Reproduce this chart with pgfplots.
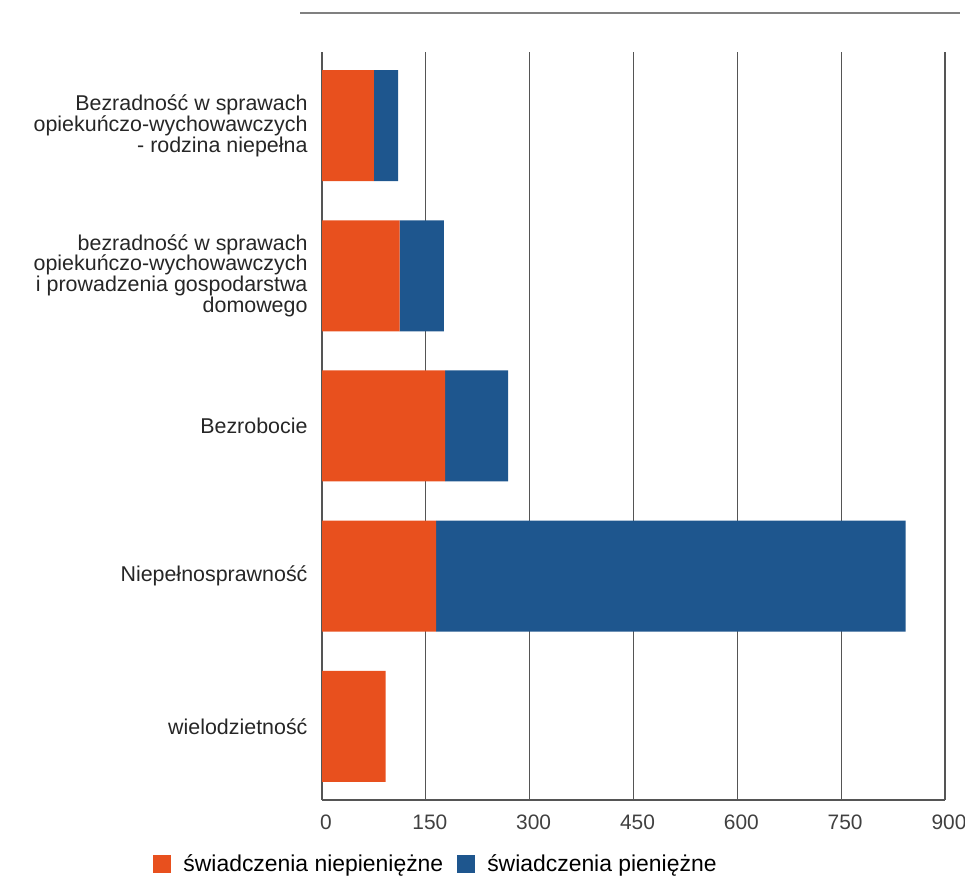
\documentclass[border=0pt]{standalone}
\usepackage{pgfplots}
\pgfplotsset{compat=1.18}
\usepackage{fontspec}
\setmainfont{Liberation Sans}
\definecolor{orng}{RGB}{232,80,30}
\definecolor{blu}{RGB}{30,86,142}
\definecolor{gridc}{RGB}{85,85,85}
\begin{document}
\begin{tikzpicture}
\begin{axis}[
  at={(322bp,79bp)}, anchor=south west,
  scale only axis, width=623bp, height=748bp,
  xbar stacked, bar width=111bp,
  xmin=0, xmax=900, ymin=-0.49, ymax=4.49,
  xtick={0,150,300,450,600,750,900},
  ytick={0,1,2,3,4},
  yticklabels={wielodzietność,Niepełnosprawność,Bezrobocie,{bezradność w sprawach\\opiekuńczo-wychowawczych\\i prowadzenia gospodarstwa\\domowego},{Bezradność w sprawach\\opiekuńczo-wychowawczych\\- rodzina niepełna}},
  yticklabel style={align=right, font=\fontsize{21.5}{21}\selectfont, text=black!85, xshift=-11bp},
  xticklabel style={font=\fontsize{21}{21}\selectfont, text=black!75, yshift=-11bp, xshift=4bp},
  /pgf/number format/assume math mode=true,
  xmajorgrids, grid style={gridc, line width=1.2bp},
  major tick length=0pt,
  axis x line*=bottom, axis y line*=left,
  x axis line style={gridc, line width=1.3bp, -},
  y axis line style={draw=none},
  legend columns=2,
  legend style={at={(0.183,-0.0856)}, anchor=center, draw=none, fill=none,
    font=\fontsize{23}{23}\selectfont, column sep=10bp,
    /tikz/every even column/.append style={column sep=12bp}},
  legend image code/.code={\fill[#1] (0bp,-9bp) rectangle (18bp,9bp);},
]
\addplot[fill=orng, draw=none] coordinates {(92,0) (165,1) (178,2) (112,3) (75,4)};
\addplot[fill=blu, draw=none] coordinates {(0,0) (678,1) (91,2) (64,3) (35,4)};
\legend{świadczenia niepieniężne, świadczenia pieniężne}
\end{axis}
\draw[gray, line width=2bp] (300bp,866bp) -- (960bp,866bp);
\pgfresetboundingbox
\useasboundingbox (0,0) rectangle (965bp,879bp);
\end{tikzpicture}
\end{document}
